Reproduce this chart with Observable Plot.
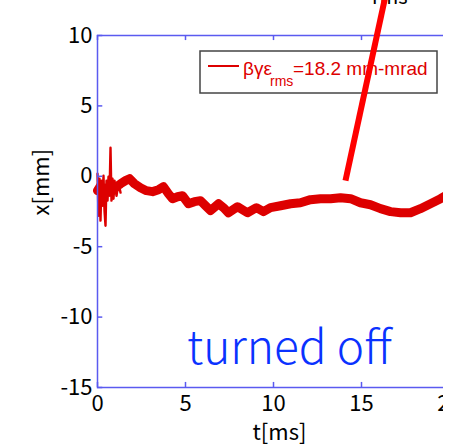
<!DOCTYPE html>
<html>
<head>
<meta charset="utf-8">
<script src="https://cdn.jsdelivr.net/npm/d3@7"></script>
<script src="https://cdn.jsdelivr.net/npm/@observablehq/plot@0.6"></script>
<style>
  html, body { margin: 0; padding: 0; background: white; }
  #wrap { position: relative; width: 443px; height: 448px; overflow: hidden; }
  #wrap svg.plotsvg { position: absolute; left: 0; top: 0; z-index: 1; max-width: none !important; width: 462px !important; height: 448px !important; }
  #legend { position: absolute; left: 0; top: 0; z-index: 0; }
</style>
</head>
<body>
<div id="wrap"></div>
<script>
// Smoothed centre of the thick trace: time [ms] and position [mm]
const tMain = [0, 0.17, 0.40, 0.63, 0.85, 1.08, 1.31, 1.59, 1.82, 2.10, 2.44, 2.78, 3.13, 3.47, 3.75, 4.03, 4.26, 4.55, 4.83, 5.17, 5.51, 5.85, 6.14, 6.42, 6.88, 7.16, 7.44, 7.95, 8.52, 9.03, 9.43, 9.83, 10.40, 10.97, 11.53, 12.10, 12.67, 13.24, 13.81, 14.38, 14.94, 15.51, 16.08, 16.65, 17.22, 17.78, 18.35, 18.92, 19.49, 19.77];
const xMain = [-1.02, -0.67, -1.16, -0.74, -1.02, -0.74, -0.53, -0.31, -0.17, -0.53, -0.81, -1.02, -1.09, -0.95, -0.74, -1.24, -1.59, -1.45, -1.38, -1.95, -1.80, -1.73, -2.09, -2.44, -1.95, -2.23, -2.59, -2.16, -2.59, -2.23, -2.51, -2.23, -2.09, -1.95, -1.88, -1.66, -1.59, -1.59, -1.52, -1.59, -1.88, -2.02, -2.30, -2.51, -2.59, -2.59, -2.30, -1.95, -1.59, -1.38];
// Fast oscillation at injection
const tNoise = [0, 0.057, 0.114, 0.17, 0.227, 0.284, 0.341, 0.398, 0.455, 0.511, 0.568, 0.625, 0.682, 0.739, 0.795, 0.852, 0.909, 0.966, 1.08, 1.19, 1.31];
const xNoise = [0.18, -2.80, -0.17, -3.15, -0.31, -2.09, 0.04, -2.44, -3.51, -0.31, -1.73, -0.03, -1.38, 2.03, -1.73, -0.17, -1.59, -0.31, -1.38, -0.45, -1.16];
const xTicks = [0, 5, 10, 15, 20];
const yTicks = [10, 5, 0, -5, -10, -15];
const xLabel = "t[ms]";
const yLabel = "x[mm]";
const note = "turned off";
const legendText = ["βγε", "rms", "=18.2 mm-mrad"];
// annotation pointer (data coordinates)
const pointerT = [14.09, 16.36];
const pointerX = [-0.31, 12.8];
const noteT = 10.9, noteX = -12.27;

const main = tMain.map((t, i) => ({t, x: xMain[i]}));
const noise = tNoise.map((t, i) => ({t, x: xNoise[i]}));
const blue = "#5a5af0";
const red = "#dd0000";
const font = "'Noto Sans CJK JP', 'Noto Sans', sans-serif";

const plot = Plot.plot({
  width: 462, height: 448,
  marginLeft: 97, marginRight: 13, marginTop: 35, marginBottom: 61,
  x: {domain: [0, 20]},
  y: {domain: [-15, 10]},
  style: {background: "transparent", fontFamily: font, fontSize: "22px", color: "black", overflow: "visible"},
  marks: [
    Plot.line(noise, {x: "t", y: "x", stroke: red, strokeWidth: 2.4}),
    Plot.line(main, {x: "t", y: "x", stroke: red, strokeWidth: 9, strokeLinejoin: "round", strokeLinecap: "round"}),
    Plot.frame({stroke: blue, strokeWidth: 1.5}),
    Plot.ruleX(xTicks, {x: d => d, y1: -15, y2: -14.64, stroke: blue, strokeWidth: 1.5}),
    Plot.ruleX(xTicks, {x: d => d, y1: 10, y2: 9.64, stroke: blue, strokeWidth: 1.5}),
    Plot.ruleY(yTicks, {y: d => d, x1: 0, x2: 0.3, stroke: blue, strokeWidth: 1.5}),
    Plot.axisX({ticks: xTicks, tickSize: 0, tickPadding: 8, label: null, tickFormat: d => String(d), fontSize: 22}),
    Plot.axisY({ticks: yTicks, tickSize: 0, tickPadding: 5, label: null, tickFormat: d => String(d), fontSize: 22}),
    Plot.text([xLabel], {frameAnchor: "bottom", text: d => d, dy: 52, dx: 6, fontSize: 22, fill: "black"}),
    Plot.text([yLabel], {frameAnchor: "left", text: d => d, rotate: -90, dx: -56, dy: 4, fontSize: 22, fill: "black"}),
    Plot.text([note], {x: () => noteT, y: () => noteX, text: d => d, fontSize: 46, fill: "#0a32ff", fontWeight: 300}),
    Plot.link([0], {x1: () => pointerT[0], y1: () => pointerX[0], x2: () => pointerT[1], y2: () => pointerX[1], stroke: "#ff0000", strokeWidth: 6, clip: false})
  ]
});
plot.classList.add("plotsvg");

const wrap = document.getElementById("wrap");
// legend (under the plot svg so the pointer crosses it)
const ns = "http://www.w3.org/2000/svg";
const lg = document.createElementNS(ns, "svg");
lg.setAttribute("id", "legend");
lg.setAttribute("width", 462); lg.setAttribute("height", 448);
lg.innerHTML = `
  <rect x="200" y="51" width="237" height="42" fill="white" stroke="#444" stroke-width="1.5"/>
  <line x1="208" x2="239" y1="66" y2="66" stroke="${red}" stroke-width="2"/>
  <text x="243" y="75" fill="${red}" font-family="Liberation Sans, Arial, sans-serif" font-size="19">${legendText[0]}</text>
  <text x="270" y="86" fill="${red}" font-family="Liberation Sans, Arial, sans-serif" font-size="14">${legendText[1]}</text>
  <text x="293" y="75" fill="${red}" font-family="Liberation Sans, Arial, sans-serif" font-size="19">${legendText[2]}</text>
  <text x="372" y="4" fill="black" font-family="${font}" font-size="20">rms</text>
`;
wrap.appendChild(lg);
wrap.appendChild(plot);
</script>
</body>
</html>
